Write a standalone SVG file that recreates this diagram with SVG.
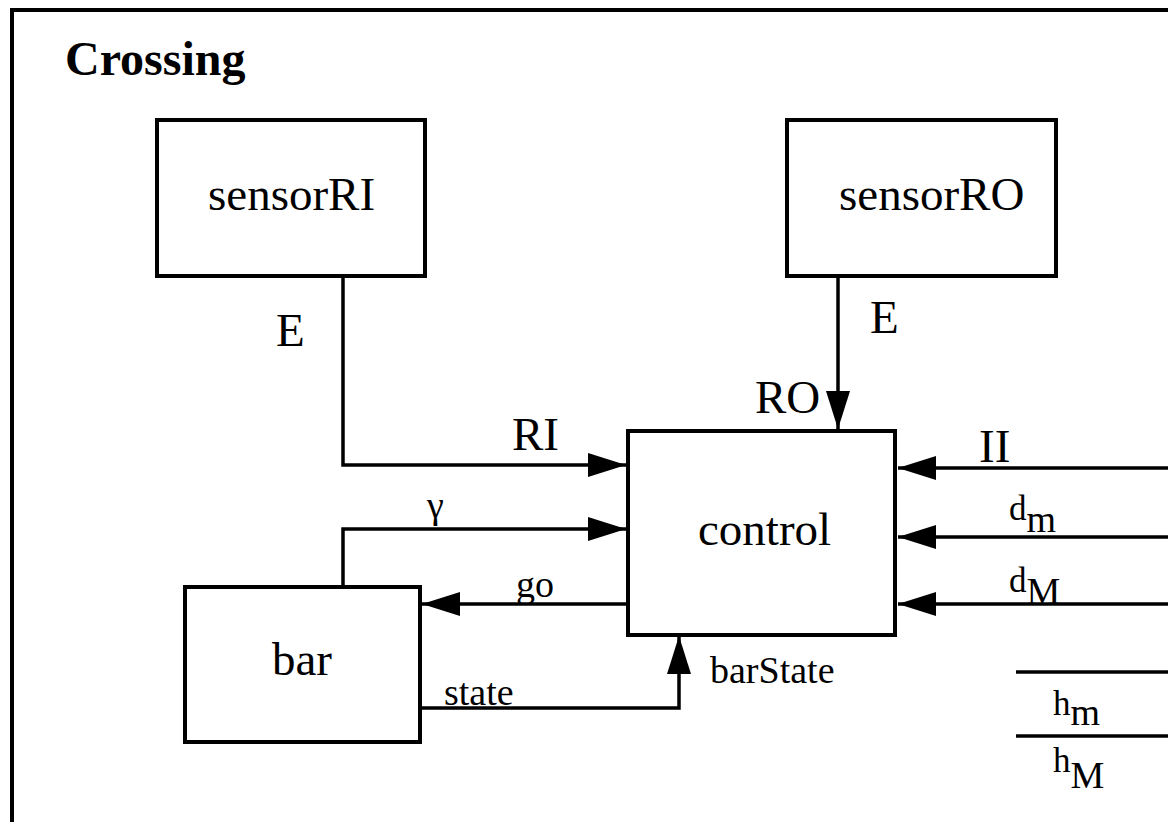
<svg xmlns="http://www.w3.org/2000/svg" width="1168" height="822" viewBox="0 0 1168 822">
<style>
.box{fill:#fff;stroke:#000;stroke-width:4}
.ln{fill:none;stroke:#000;stroke-width:3.5}
.t{font-family:'Liberation Serif','Tinos','Times New Roman','DejaVu Serif',serif;fill:#000}
.big{font-size:47px}
.sm{font-size:38px}
.ttl{font-size:48px;font-weight:bold}
</style>
<defs>
<marker id="ah" markerUnits="userSpaceOnUse" markerWidth="40" markerHeight="26" refX="38" refY="12" orient="auto">
<path d="M0,0 L38,12 L0,24 Z" fill="#000"/>
</marker>
</defs>
<rect x="0" y="0" width="1168" height="822" fill="#fff"/>
<rect x="12" y="10" width="1200" height="900" fill="none" stroke="#000" stroke-width="4"/>
<text class="t ttl" x="65" y="75" font-family="Liberation Serif, serif">Crossing</text>
<g id="connectors">
<path class="ln" d="M343,276 V465 H626" marker-end="url(#ah)"/>
<path class="ln" d="M838,276 V429" marker-end="url(#ah)"/>
<path class="ln" d="M343,587 V529 H626" marker-end="url(#ah)"/>
<path class="ln" d="M628,604 H422" marker-end="url(#ah)"/>
<path class="ln" d="M418,708 H679 V636" marker-end="url(#ah)"/>
<path class="ln" d="M1168,468 H898" marker-end="url(#ah)"/>
<path class="ln" d="M1168,537 H898" marker-end="url(#ah)"/>
<path class="ln" d="M1168,604 H898" marker-end="url(#ah)"/>
<path class="ln" d="M1016,672 H1168"/>
<path class="ln" d="M1016,736 H1168"/>
<text class="t big" x="276" y="346">E</text>
<text class="t big" x="512" y="450">RI</text>
<text class="t big" x="870" y="333">E</text>
<text class="t big" x="755" y="413">RO</text>
<text class="t sm" x="427" y="518">γ</text>
<text class="t sm" x="516" y="597">go</text>
<text class="t sm" x="444" y="705">state</text>
<text class="t sm" x="710" y="683">barState</text>
<text class="t big" x="979" y="462">II</text>
<text class="t" x="1009" y="520" font-size="35">d<tspan font-size="38" dy="12">m</tspan></text>
<text class="t" x="1009" y="592" font-size="35">d<tspan font-size="38" dy="12">M</tspan></text>
<text class="t" x="1053" y="715" font-size="35">h<tspan font-size="38" dy="10">m</tspan></text>
<text class="t" x="1053" y="772" font-size="35">h<tspan font-size="38" dy="16">M</tspan></text>
</g>
<g id="sensorRI">
<rect class="box" x="157" y="120" width="268" height="156"/>
<text class="t big" x="208" y="210">sensorRI</text>
</g>
<g id="sensorRO">
<rect class="box" x="787" y="120" width="269" height="156"/>
<text class="t big" x="839" y="210">sensorRO</text>
</g>
<g id="control">
<rect class="box" x="628" y="431" width="267" height="204"/>
<text class="t big" x="698" y="545">control</text>
</g>
<g id="bar">
<rect class="box" x="185" y="587" width="235" height="155"/>
<text class="t big" x="272" y="675">bar</text>
</g>
</svg>
